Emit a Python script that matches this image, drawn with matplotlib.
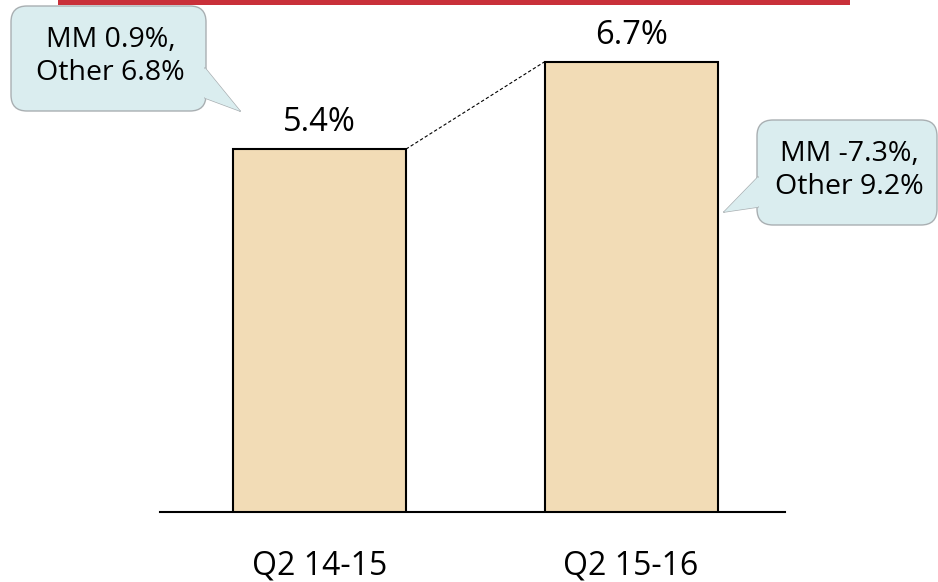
import matplotlib.pyplot as plt
from matplotlib.patches import FancyBboxPatch, Polygon, Rectangle

# data
categories = ['Q2 14-15', 'Q2 15-16']
growth = [5.4, 6.7]
value_labels = ['5.4%', '6.7%']
callout_texts = ['MM 0.9%,\nOther 6.8%', 'MM -7.3%,\nOther 9.2%']

plt.rcParams['font.family'] = ['Open Sans', 'DejaVu Sans']

W, H = 938, 582
fig = plt.figure(figsize=(W / 100, H / 100), dpi=100)

# main axes: baseline at y=512 px, x from 160 to 785 px
base_px = 512
px_per_unit = 67.2
ax = fig.add_axes([160 / W, (H - base_px) / H, 625 / W, base_px / H])
ax.set_ylim(0, base_px / px_per_unit)
ax.set_xlim(-0.512, 1.494)

x = range(len(categories))
bars = ax.bar(x, growth, width=0.555, color='#F2DCB6', edgecolor='black',
              linewidth=1.5, zorder=3)

for b, lab in zip(bars, value_labels):
    ax.annotate(lab, (b.get_x() + b.get_width() / 2, b.get_height()),
                xytext=(0, 19), textcoords='offset points',
                ha='center', va='center', fontsize=23.5)

# dashed connector between bar tops
b0, b1 = bars[0], bars[1]
ax.plot([b0.get_x() + b0.get_width(), b1.get_x()],
        [b0.get_height(), b1.get_height()],
        color='black', linestyle=(0, (3, 2)), linewidth=0.8)

for s in ['top', 'right', 'left']:
    ax.spines[s].set_visible(False)
ax.spines['bottom'].set_linewidth(1.5)
ax.set_yticks([])
ax.set_xticks(list(x))
ax.set_xticklabels(categories, fontsize=23)
ax.tick_params(axis='x', length=0, pad=27)

# overlay in pixel coords for decorations
ov = fig.add_axes([0, 0, 1, 1], zorder=5)
ov.set_xlim(0, W)
ov.set_ylim(H, 0)
ov.axis('off')
ov.patch.set_alpha(0)

ov.add_patch(Rectangle((58, 0), 792, 5, color='#C9303A', lw=0))

fill = '#DAEDEF'
edge = '#A9AFB2'


def callout(box, tail, text):
    x0, y0, w, h = box
    ov.add_patch(FancyBboxPatch((x0, y0), w, h,
                                boxstyle='round,pad=0,rounding_size=16',
                                fc=fill, ec=edge, lw=1.0))
    ov.add_patch(Polygon(tail, closed=True, fc=fill, ec='none', zorder=3))
    ov.plot([tail[0][0], tail[1][0]], [tail[0][1], tail[1][1]], color=edge, lw=1.0)
    ov.plot([tail[1][0], tail[2][0]], [tail[1][1], tail[2][1]], color=edge, lw=1.0)
    ov.text(x0 + w / 2 + 2, y0 + h / 2 - 2, text, ha='center', va='center',
            fontsize=20.5, linespacing=1.28, zorder=4)


callout((11, 6, 195, 105), [(205, 68), (240, 111), (205, 98)], callout_texts[0])
callout((757, 120, 180, 105), [(758, 177), (724, 212), (758, 207)], callout_texts[1])

fig.savefig('out.png', dpi=100)
